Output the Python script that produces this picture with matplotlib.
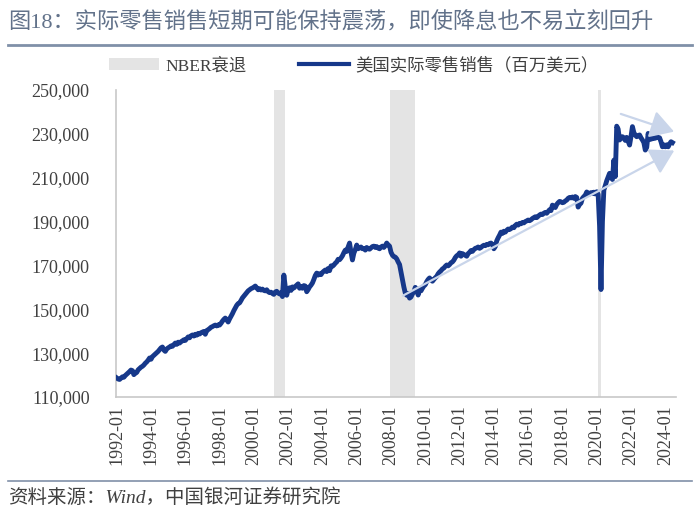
import numpy as np
import matplotlib.pyplot as plt
from matplotlib.patches import Patch
from matplotlib.lines import Line2D

plt.rcParams['font.family'] = ['Liberation Serif', 'Noto Sans CJK SC']

# monthly US real retail sales, thousands of millions of USD, 1992-01 .. 2024-06
sales_1990s = [
    118.7, 118.2, 118.0, 118.6, 119.2, 119.0, 119.8, 120.4, 121.0, 121.6, 122.3, 122.0,
    120.2, 120.8, 121.2, 122.4, 123.0, 123.6, 124.0, 124.6, 125.4, 126.0, 126.8, 127.8,
    127.2, 128.4, 129.0, 129.6, 130.2, 130.8, 131.6, 132.4, 132.8, 131.4, 130.8, 131.9,
    132.4, 132.8, 133.3, 133.1, 133.9, 134.6, 134.0, 135.0, 134.6, 135.2, 135.6, 136.1,
    135.8, 136.6, 137.4, 137.0, 137.9, 138.3, 137.8, 138.6, 138.2, 139.0, 138.7, 139.3,
    139.6, 139.9, 138.6, 140.3, 140.7, 141.2, 141.8, 142.1, 142.5, 142.8, 142.4, 142.9,
    142.8, 143.6, 144.6, 145.4, 146.0, 145.2, 144.2, 145.6, 146.8, 148.0, 149.4, 150.6,
    151.8, 152.6, 152.9, 154.0, 155.2, 156.0, 156.8, 157.6, 158.4, 158.9, 159.4, 159.7,
]
sales_2000s = [
    160.1, 160.6, 159.8, 158.9, 159.4, 158.8, 159.2, 158.6, 158.4, 158.9, 158.0, 157.6,
    157.8, 157.2, 156.8, 157.9, 158.2, 157.4, 157.0, 157.6, 155.8, 165.6, 160.2, 156.4,
    159.0, 159.8, 158.6, 160.2, 159.7, 160.4, 161.0, 161.6, 159.6, 160.4, 159.6, 160.8,
    160.6, 158.0, 159.0, 160.2, 161.0, 162.0, 163.6, 165.4, 166.5, 165.6, 166.2, 165.8,
    166.8, 167.4, 167.9, 167.2, 168.6, 167.6, 169.8, 169.6, 170.2, 171.0, 171.6, 172.8,
    172.6, 173.4, 174.4, 175.8, 177.0, 176.4, 178.4, 180.2, 176.0, 172.5, 175.6, 177.2,
    179.3, 177.6, 178.0, 178.4, 177.6, 177.8, 177.0, 178.2, 177.6, 177.4, 178.0, 178.6,
    178.8, 178.2, 178.6, 177.9, 177.6, 178.4, 178.8, 178.2, 179.0, 180.2, 179.4, 178.8,
    176.0, 174.7, 174.0, 173.8, 173.0, 171.6, 170.4, 167.0, 163.8, 160.2, 157.4, 156.4,
    157.2, 155.1, 155.6, 157.0, 158.0, 160.0, 159.0, 156.5, 159.4, 158.4, 159.6, 160.6,
]
sales_2010s = [
    161.2, 162.6, 163.6, 164.3, 163.4, 162.8, 163.6, 164.4, 165.0, 166.2, 167.0, 167.6,
    168.4, 168.8, 169.6, 170.2, 169.8, 170.4, 171.2, 171.6, 172.4, 173.6, 174.4, 174.8,
    175.7, 174.2, 175.4, 175.0, 174.6, 174.2, 175.4, 176.0, 176.8, 176.4, 177.2, 177.8,
    178.0, 178.4, 177.8, 178.2, 178.8, 179.2, 179.0, 179.6, 179.4, 180.0, 180.2, 179.6,
    177.6, 178.6, 181.2, 182.6, 183.8, 185.2, 184.6, 185.6, 185.2, 186.0, 186.6, 186.4,
    186.8, 187.5, 187.2, 188.2, 188.8, 188.4, 189.2, 189.0, 189.6, 189.4, 190.0, 190.3,
    190.7, 190.4, 190.8, 191.4, 191.8, 192.2, 191.8, 192.4, 193.0, 193.4, 193.2, 193.8,
    194.2, 193.8, 194.6, 195.4, 195.0, 197.5, 196.8, 196.4, 197.8, 198.6, 199.2, 199.0,
    198.6, 198.8, 199.4, 199.8, 200.6, 201.0, 200.8, 201.2, 200.6, 201.4, 201.0, 196.6,
    197.8, 198.4, 200.6, 201.4, 202.0, 203.5, 203.0, 202.6, 203.2, 202.8, 203.4, 202.6,
]
sales_2020s = [
    203.6, 202.4, 188.0, 159.0, 190.0, 204.4, 206.4, 208.6, 210.3, 212.0, 210.4, 209.2,
    218.0, 210.5, 233.5, 232.2, 227.2, 228.0, 228.7, 228.2, 227.0, 228.4, 226.6, 224.9,
    228.8, 233.3, 230.6, 229.4, 228.7, 229.2, 229.5, 228.2, 227.2, 226.0, 222.6, 223.8,
    230.2, 227.4, 227.6, 227.8, 228.2, 228.0, 228.6, 228.4, 228.2, 226.4, 224.1, 225.0,
    224.1, 225.0, 224.1, 225.4, 226.4, 226.0,
]
sales = np.array(sales_1990s + sales_2000s + sales_2010s + sales_2020s) * 1000
months = np.arange(len(sales))  # 0 = 1992-01

# NBER recessions as (start month index, end month index)
recession_start = [110, 191, 337]  # 2001-03, 2007-12, 2020-02
recession_end = [118, 209, 339]    # 2001-11, 2009-06, 2020-04

# hand drawn trend arrows (month index, value)
arrow_upper = [(351, 239500), (392, 230600)]
arrow_lower = [(198.6, 155600), (392, 223000)]

tick_pos = np.arange(0, 385, 24)
tick_labels = [f"{1992 + 2*k}-01" for k in range(len(tick_pos))]

navy = '#16388a'
shade = '#e4e4e4'
arrow_col = '#c9d5ea'
text_col = '#404040'

fig = plt.figure(figsize=(7, 5.19), dpi=100)
ax = fig.add_axes([116/700, 1 - 397/519, 560/700, 307/519])

for s, e in zip(recession_start, recession_end):
    ax.axvspan(s, e, color=shade, lw=0, zorder=0)

ax.plot(months, sales, color=navy, lw=3.5, solid_joinstyle='round', zorder=3)

for (x0, y0), (x1, y1) in [arrow_upper, arrow_lower]:
    ax.annotate('', xy=(x1, y1), xytext=(x0, y0),
                arrowprops=dict(arrowstyle='-|>,head_length=0.85,head_width=0.5',
                                mutation_scale=17, lw=1.6, color=arrow_col),
                annotation_clip=False, zorder=4)

ax.set_xlim(-0.5, 391.5)
ax.set_ylim(110000, 250000)
ax.set_yticks(np.arange(110000, 250001, 20000))
ax.yaxis.set_major_formatter(plt.FuncFormatter(lambda v, p: f"{int(v):,}"))
ax.set_xticks(tick_pos)
ax.set_xticklabels(tick_labels, rotation=90)

ax.tick_params(axis='y', length=0, pad=19, labelsize=13, labelcolor=text_col)
ax.tick_params(axis='x', length=0, pad=6, labelsize=13, labelcolor=text_col)
for side in ['top', 'right']:
    ax.spines[side].set_visible(False)
for side in ['left', 'bottom']:
    ax.spines[side].set_color('#c8c8c8')
    ax.spines[side].set_linewidth(1.2)

handles = [Patch(facecolor=shade, edgecolor='none'),
           Line2D([0], [0], color=navy, lw=3)]
fig.legend(handles, ['NBER衰退', '美国实际零售销售（百万美元）'],
           loc='center', bbox_to_anchor=(0.505, 1 - 66/519), ncol=2,
           frameon=False, fontsize=12.5, handlelength=2.9, handleheight=0.7,
           handletextpad=0.35, columnspacing=3.0, labelcolor=text_col)

# title and source
fig.text(8/700, 1 - 22/519, '图18：实际零售销售短期可能保持震荡，即使降息也不易立刻回升',
         fontsize=16, color='#62728a', va='center', ha='left')
fig.add_artist(Line2D([8/700, 692/700], [1 - 45/519, 1 - 45/519],
                      color='#8090a8', lw=2))
fig.add_artist(Line2D([8/700, 692/700], [1 - 481/519, 1 - 481/519],
                      color='#8090a8', lw=1.2))
fig.text(8/700, 1 - 498/519, '资料来源：Wind，中国银河证券研究院',
         fontsize=14, color=text_col, va='center', ha='left', style='italic')

fig.savefig('out.png', dpi=100)
